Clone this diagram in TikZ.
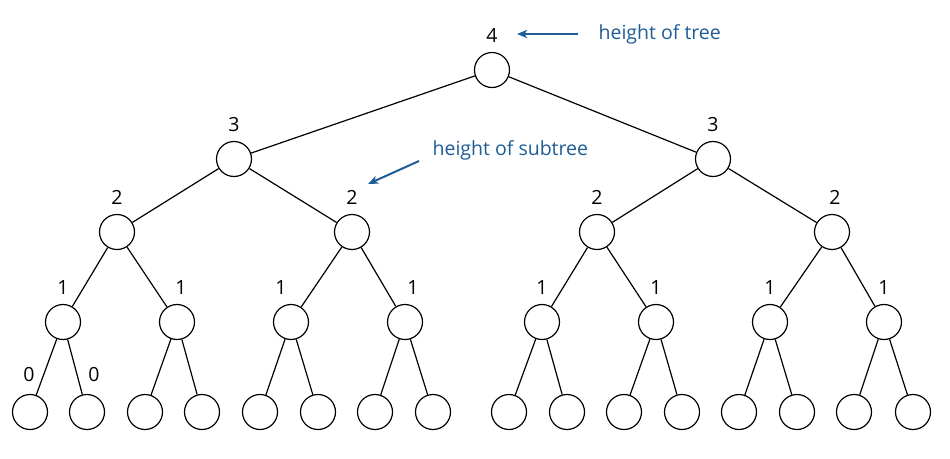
\documentclass[tikz,border=0pt]{standalone}
\usepackage{fontspec}
\setmainfont{Open Sans}
\usetikzlibrary{arrows.meta}
\definecolor{noteblue}{RGB}{30,92,150}

\begin{document}
\begin{tikzpicture}
        [x=1pt,y=-1pt,
         vertex/.style={draw,shape=circle,fill=white,inner sep=0,minimum size=35pt,line width=1.2pt},
         lbl/.style={inner sep=0,font=\fontsize{19.5}{23}\selectfont},
         note/.style={inner sep=0,text=noteblue,font=\fontsize{19.5}{23}\selectfont},
         pointer/.style={-{Stealth[length=10pt,width=8pt,inset=2.5pt]},draw=noteblue,line width=2pt},
         every label/.style={lbl}, label distance=9pt,
         every path/.style={line width=1.2pt}]

        \useasboundingbox (0,0) rectangle (950,458);

        \node[vertex,label=90:{4}] (v1) at (492, 70) {};

        \node[vertex,label=90:{3}] (v2) at (234, 159) {};
        \node[vertex,label=90:{3}] (v3) at (713, 159) {};

        \node[vertex,label=90:{2}] (v4) at (117, 232) {};
        \node[vertex,label=90:{2}] (v5) at (352, 232) {};
        \node[vertex,label=90:{2}] (v6) at (597, 232) {};
        \node[vertex,label={[xshift=3pt]90:{2}}] (v7) at (832, 232) {};

        \node[vertex,label=90:{1}] (v8) at (63, 322) {};
        \node[vertex,label={[xshift=4pt]90:{1}}] (v9) at (177, 322) {};
        \node[vertex,label={[xshift=-10pt]90:{1}}] (v10) at (291, 322) {};
        \node[vertex,label={[xshift=8pt]90:{1}}] (v11) at (405, 322) {};
        \node[vertex,label=90:{1}] (v12) at (542, 322) {};
        \node[vertex,label=90:{1}] (v13) at (656, 322) {};
        \node[vertex,label=90:{1}] (v14) at (770, 322) {};
        \node[vertex,label=90:{1}] (v15) at (884, 322) {};

        \node[vertex,label={[xshift=-1pt,label distance=12pt]90:{0}}] (v16) at (30, 412) {};
        \node[vertex,label={[xshift=7pt,label distance=12pt]90:{0}}] (v17) at (87, 412) {};
        \node[vertex] (v18) at (145, 412) {};
        \node[vertex] (v19) at (202, 412) {};
        \node[vertex] (v20) at (260, 412) {};
        \node[vertex] (v21) at (318, 412) {};
        \node[vertex] (v22) at (375, 412) {};
        \node[vertex] (v23) at (433, 412) {};
        \node[vertex] (v24) at (509, 412) {};
        \node[vertex] (v25) at (567, 412) {};
        \node[vertex] (v26) at (624, 412) {};
        \node[vertex] (v27) at (682, 412) {};
        \node[vertex] (v28) at (739, 412) {};
        \node[vertex] (v29) at (797, 412) {};
        \node[vertex] (v30) at (854, 412) {};
        \node[vertex] (v31) at (913, 412) {};

        \draw (v1) -- (v2);
        \draw (v1) -- (v3);
        \draw (v2) -- (v4);
        \draw (v2) -- (v5);
        \draw (v3) -- (v6);
        \draw (v3) -- (v7);
        \draw (v4) -- (v8);
        \draw (v4) -- (v9);
        \draw (v5) -- (v10);
        \draw (v5) -- (v11);
        \draw (v6) -- (v12);
        \draw (v6) -- (v13);
        \draw (v7) -- (v14);
        \draw (v7) -- (v15);
        \draw (v8) -- (v16);
        \draw (v8) -- (v17);
        \draw (v9) -- (v18);
        \draw (v9) -- (v19);
        \draw (v10) -- (v20);
        \draw (v10) -- (v21);
        \draw (v11) -- (v22);
        \draw (v11) -- (v23);
        \draw (v12) -- (v24);
        \draw (v12) -- (v25);
        \draw (v13) -- (v26);
        \draw (v13) -- (v27);
        \draw (v14) -- (v28);
        \draw (v14) -- (v29);
        \draw (v15) -- (v30);
        \draw (v15) -- (v31);

        % notes
        \node[note,anchor=west] (tree) at (598, 34) {height of tree};
        \node[note,anchor=west] (sub) at (432, 150) {height of subtree};
        \coordinate (p1) at (517, 34);
        \coordinate (p2) at (368, 184);

        \draw[pointer] ([xshift=-20pt]tree.west) -- (p1);
        \draw[pointer] ([shift={(-13,11)}]sub.west) -- (p2);

      \end{tikzpicture}
\end{document}
